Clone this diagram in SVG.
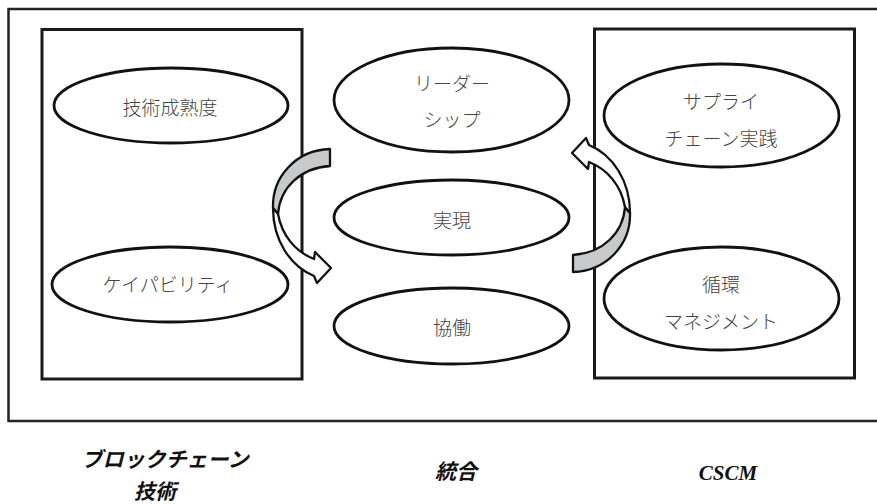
<svg xmlns="http://www.w3.org/2000/svg" xmlns:xlink="http://www.w3.org/1999/xlink" width="877" height="504" viewBox="0 0 877 504">
<style>
.frame{fill:none;stroke:#222;stroke-width:2.5}
.box{fill:none;stroke:#1a1a1a;stroke-width:3}
.ell{fill:#fff;stroke:#111;stroke-width:2.8}
.lbl{font-family:"Noto Sans CJK JP","Noto Sans",sans-serif;font-size:19px;fill:#444;text-anchor:middle;font-weight:300}
.cap{font-family:"Liberation Serif","Noto Sans CJK JP",serif;font-size:21px;fill:#111;text-anchor:middle;font-style:italic;font-weight:bold}
.gray{fill:#c8c9cb;stroke:#111;stroke-width:2.3;stroke-linejoin:round}
.white{fill:#fff;stroke:#111;stroke-width:2.3;stroke-linejoin:round}
</style>
<defs>
<g id="curvedArrow">
<path class="gray" d="M 330,149 C 296,150 272,177 273,208 L 278,214 C 280,188 300,168 330,166 Z"/>
<path class="white" d="M 273,208 C 273,240 290,266 314,276 L 317,283 L 331,268 L 315,252 L 314,259 C 296,252 282,236 278,214 Z"/>
</g>
</defs>
<rect width="877" height="504" fill="#fff"/>
<g id="outer-frame">
<path class="frame" d="M 880,9 L 8.5,9 L 8.5,421 L 880,421"/>
</g>
<g id="blockchain-box"><rect class="box" x="42" y="29.5" width="260" height="349.5"/></g>
<g id="cscm-box"><rect class="box" x="594.5" y="29" width="260" height="349"/></g>
<g id="node-maturity">
<ellipse class="ell" cx="171" cy="105.5" rx="117" ry="37.5"/>
<text class="lbl" x="170" y="115">技術成熟度</text>
</g>
<g id="node-capability">
<ellipse class="ell" cx="170" cy="284.5" rx="118" ry="37.5"/>
<text class="lbl" x="168" y="292">ケイパビリティ</text>
</g>
<g id="node-leadership">
<ellipse class="ell" cx="451.5" cy="100" rx="117.5" ry="52"/>
<text class="lbl" x="452" y="91">リーダー</text>
<text class="lbl" x="452" y="127">シップ</text>
</g>
<g id="node-realization">
<ellipse class="ell" cx="451.5" cy="217.5" rx="117.5" ry="37.5"/>
<text class="lbl" x="452" y="228">実現</text>
</g>
<g id="node-collaboration">
<ellipse class="ell" cx="451.5" cy="326" rx="117.5" ry="38"/>
<text class="lbl" x="452" y="335">協働</text>
</g>
<g id="node-supply-chain">
<ellipse class="ell" cx="721.5" cy="115.5" rx="117.5" ry="51.5"/>
<text class="lbl" x="721" y="109">サプライ</text>
<text class="lbl" x="721" y="146">チェーン実践</text>
</g>
<g id="node-circular">
<ellipse class="ell" cx="721.5" cy="298.5" rx="117.5" ry="51.5"/>
<text class="lbl" x="721" y="292">循環</text>
<text class="lbl" x="721" y="329">マネジメント</text>
</g>
<g id="connectors">
<use xlink:href="#curvedArrow"/>
<use xlink:href="#curvedArrow" transform="rotate(180 451.5 210.5)"/>
</g>
<g id="captions">
<text class="cap" x="165" y="467">ブロックチェーン</text>
<text class="cap" x="155" y="499">技術</text>
<text class="cap" x="456" y="479">統合</text>
<text class="cap" x="728" y="480">CSCM</text>
</g>
</svg>
